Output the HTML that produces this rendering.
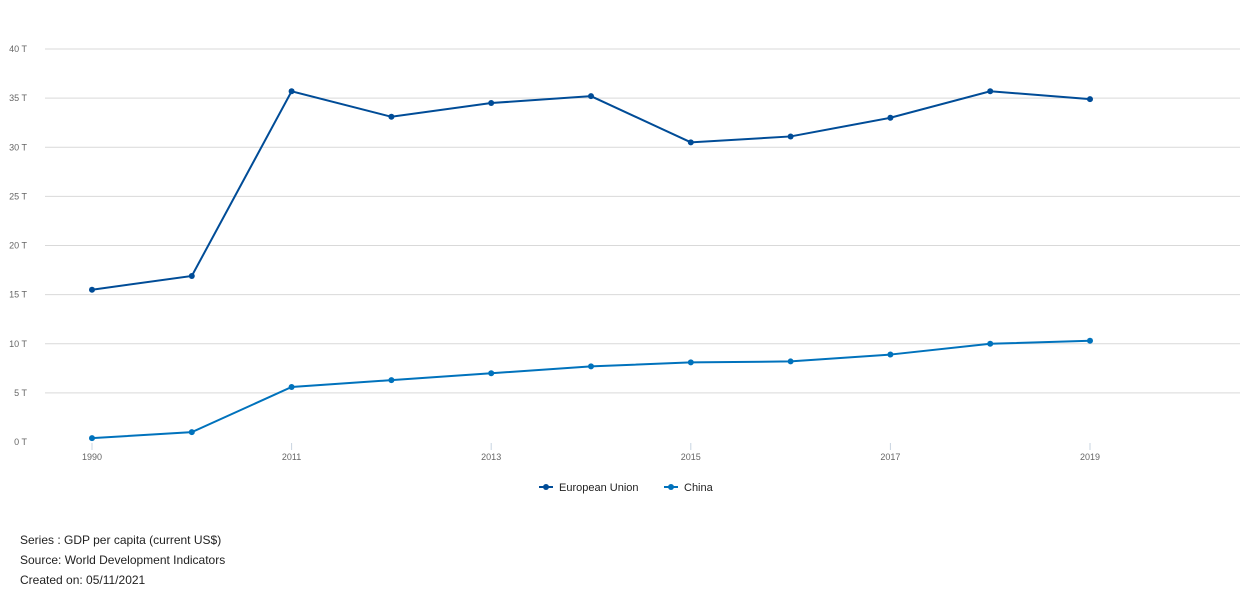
<!DOCTYPE html>
<html><head><meta charset="utf-8"><style>
body{margin:0;background:#fff;font-family:"Liberation Sans",sans-serif}
.f{position:absolute;left:20px;font-size:12px;color:#222}
</style></head><body>
<div style="position:relative;width:1250px;height:600px">
<svg id="c" width="1250" height="520" style="position:absolute;left:0;top:0"></svg>
<div class="f" style="top:533px">Series : GDP per capita (current US$)</div>
<div class="f" style="top:553px">Source: World Development Indicators</div>
<div class="f" style="top:573px">Created on: 05/11/2021</div>
</div>
<script>
const categories=["1990","2000","2011","2012","2013","2014","2015","2016","2017","2018","2019"];
const euValues=[15.5,16.9,35.7,33.1,34.5,35.2,30.5,31.1,33.0,35.7,34.9];
const chinaValues=[0.4,1.0,5.6,6.3,7.0,7.7,8.1,8.2,8.9,10.0,10.3];
const yTicks=[0,5,10,15,20,25,30,35,40];
const NS="http://www.w3.org/2000/svg",svg=document.getElementById('c');
const x=i=>92+i*99.8, y=v=>442-v*9.825;
function el(t,a,p){const e=document.createElementNS(NS,t);for(const k in a)e.setAttribute(k,a[k]);(p||svg).appendChild(e);return e;}
yTicks.forEach(v=>{
 if(v>0){const g=el('line',{x1:45,x2:1240,y1:y(v),y2:y(v),stroke:'#d9d9d9','stroke-width':1});
 
 }
 const t=el('text',{x:27,y:y(v)+3,'font-size':9,fill:'#666','text-anchor':'end'});t.textContent=v+' T';
 
 
});
categories.forEach((c,i)=>{if(i%2)return;
 const l=el('line',{x1:x(i),x2:x(i),y1:443,y2:450,stroke:'#c8d4e0'});
 
 
 const t=el('text',{x:x(i),y:460,'font-size':9,fill:'#666','text-anchor':'middle'});t.textContent=c;
 
 
});
function series(vals,col,name){
 const p=el('polyline',{points:vals.map((v,i)=>x(i)+','+y(v)).join(' '),fill:'none',stroke:col,'stroke-width':2});
 
 
 vals.forEach((v,i)=>{const d=el('circle',{cx:x(i),cy:y(v),r:3,fill:col});
  
  });
}
series(euValues,'#004c97','eu');
series(chinaValues,'#0072bc','china');
[['European Union','#004c97',539],['China','#0072bc',664]].forEach(([n,c,lx])=>{
 const g=el('g',{});
 
 
 el('line',{x1:lx,x2:lx+14,y1:487,y2:487,stroke:c,'stroke-width':2},g);
 el('circle',{cx:lx+7,cy:487,r:3,fill:c},g);
 const t=el('text',{x:lx+20,y:491,'font-size':11,fill:'#222'},g);t.textContent=n;
});
</script></body></html>
